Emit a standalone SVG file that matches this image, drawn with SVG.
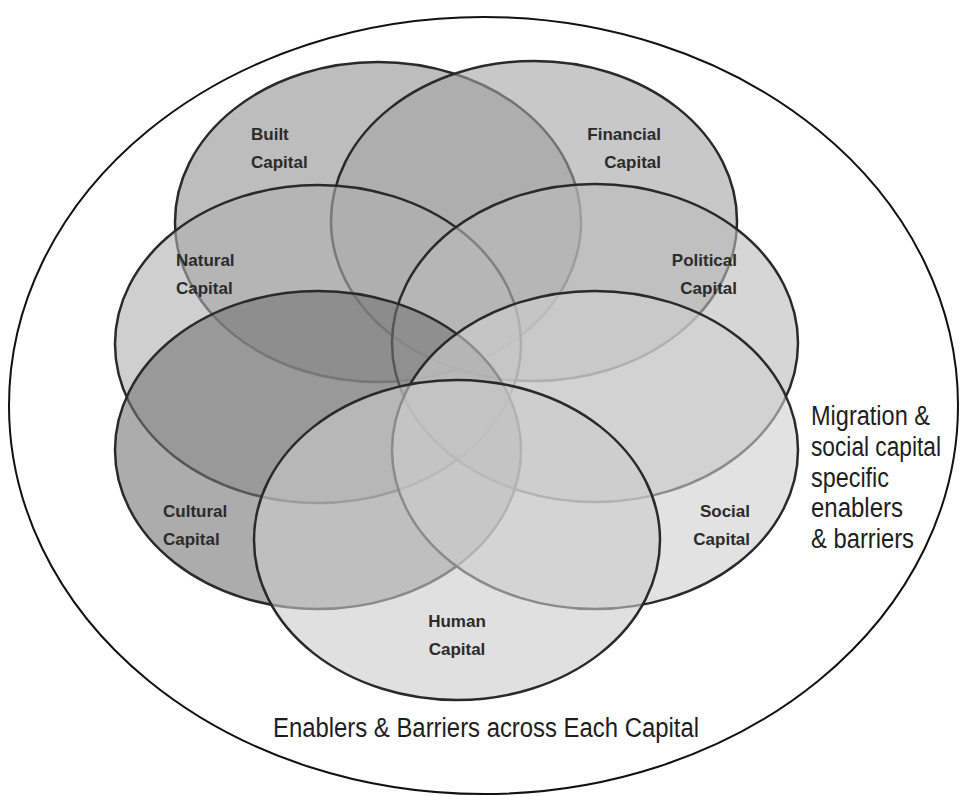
<svg xmlns="http://www.w3.org/2000/svg" width="962" height="796" viewBox="0 0 962 796">
  <style>
    .cap { stroke: #2a2a2a; stroke-width: 2.5; fill-opacity: 0.6; }
    .lbl { font-family: "Liberation Sans", Arial, sans-serif; font-weight: bold; font-size: 17px; fill: #2b2b2b; }
    .note { font-family: "Liberation Sans", Arial, sans-serif; font-size: 27px; fill: #1e1e1e; }
  </style>
  <rect width="962" height="796" fill="#ffffff"/>

  <!-- outer boundary: enablers & barriers -->
  <g id="outer">
    <ellipse cx="483.5" cy="405.5" rx="474.5" ry="388.5" fill="none" stroke="#111111" stroke-width="2"/>
  </g>

  <!-- the seven capitals, drawn back to front -->
  <g id="built">
    <ellipse class="cap" cx="378" cy="222" rx="203" ry="160" fill="#919191"/>
    <text class="lbl" x="251" y="140">Built</text>
    <text class="lbl" x="251" y="168">Capital</text>
  </g>
  <g id="financial">
    <ellipse class="cap" cx="534" cy="221" rx="203" ry="160" fill="#a3a3a3"/>
    <text class="lbl" x="661" y="140" text-anchor="end">Financial</text>
    <text class="lbl" x="661" y="168" text-anchor="end">Capital</text>
  </g>
  <g id="natural">
    <ellipse class="cap" cx="318" cy="344" rx="203" ry="159" fill="#afafaf"/>
    <text class="lbl" x="176" y="266">Natural</text>
    <text class="lbl" x="176" y="294">Capital</text>
  </g>
  <g id="political">
    <ellipse class="cap" cx="595" cy="343" rx="203" ry="159" fill="#bbbbbb"/>
    <text class="lbl" x="737" y="266" text-anchor="end">Political</text>
    <text class="lbl" x="737" y="294" text-anchor="end">Capital</text>
  </g>
  <g id="cultural">
    <ellipse class="cap" cx="318" cy="450" rx="203" ry="159" fill="#757575"/>
    <text class="lbl" x="163" y="517">Cultural</text>
    <text class="lbl" x="163" y="545">Capital</text>
  </g>
  <g id="social">
    <ellipse class="cap" cx="595" cy="450" rx="203" ry="159" fill="#cfcfcf"/>
    <text class="lbl" x="750" y="517" text-anchor="end">Social</text>
    <text class="lbl" x="750" y="545" text-anchor="end">Capital</text>
  </g>
  <g id="human">
    <ellipse class="cap" cx="457" cy="540" rx="203" ry="160" fill="#cbcbcb"/>
    <text class="lbl" x="457" y="627" text-anchor="middle">Human</text>
    <text class="lbl" x="457" y="655" text-anchor="middle">Capital</text>
  </g>

  <!-- free-standing notes -->
  <g id="migration-note">
    <text class="note" x="811" y="425" textLength="119" lengthAdjust="spacingAndGlyphs">Migration &amp;</text>
    <text class="note" x="811" y="456" textLength="130" lengthAdjust="spacingAndGlyphs">social capital</text>
    <text class="note" x="811" y="487" textLength="78" lengthAdjust="spacingAndGlyphs">specific</text>
    <text class="note" x="811" y="517" textLength="92" lengthAdjust="spacingAndGlyphs">enablers</text>
    <text class="note" x="811" y="548" textLength="103" lengthAdjust="spacingAndGlyphs">&amp; barriers</text>
  </g>
  <g id="across-note">
    <text class="note" x="273" y="737" textLength="426" lengthAdjust="spacingAndGlyphs">Enablers &amp; Barriers across Each Capital</text>
  </g>
</svg>
